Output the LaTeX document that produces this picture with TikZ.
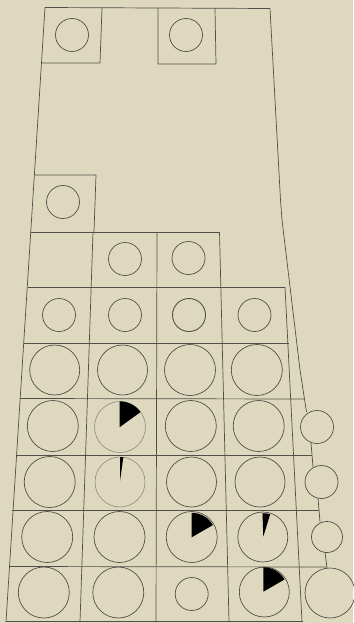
\documentclass[tikz,border=0pt]{standalone}
\usepackage{tikz}
\definecolor{paper}{RGB}{222,217,190}
\definecolor{ink}{RGB}{80,79,72}
\definecolor{inkfaint}{RGB}{140,138,126}
\tikzset{
  grid line/.style={draw=ink, line width=0.7pt, line join=round},
  ring/.style={draw=ink, line width=0.7pt},
  faint ring/.style={draw=inkfaint, line width=0.6pt},
  wedge/.style={fill=black, draw=none},
}
\begin{document}
\begin{tikzpicture}[x=1pt, y=-1pt]
\useasboundingbox (0,0) rectangle (353,623);
\fill[paper] (0,0) rectangle (353,623);

% outer outline
\draw[grid line] (6,622) -- (45,7.5) -- (270,8.5) -- (280.5,200) -- (282,220) -- (300,370) -- (306.5,412);
% upper boxes
\draw[grid line] (102,7.8) -- (100,63) -- (41.3,63);
\draw[grid line] (158,8) -- (158,64) -- (216,64) -- (215,8.2);
\draw[grid line] (34,175) -- (96,175) -- (94,232);
% row lines
\draw[grid line] (31,232) -- (219.5,232);
\draw[grid line] (28,287) -- (285,287);
\draw[grid line] (24,343) -- (289,343);
\draw[grid line] (20,398.5) -- (304.5,399);
\draw[grid line] (16,455) -- (312,455);
\draw[grid line] (12,510) -- (319,510);
\draw[grid line] (9,566.5) -- (327,567);
\draw[grid line] (6,621.5) -- (303,621.5);
% column lines
\draw[grid line] (93,232) -- (80,622);
\draw[grid line] (157,232) -- (156,622);
\draw[grid line] (219.5,232) -- (229,622);
\draw[grid line] (285,287) -- (302,622);
% right-hand chain
\draw[grid line] (311,443) -- (313,467);
\draw[grid line] (318,498) -- (320,522);
\draw[grid line] (325,552) -- (327,568);
\draw[ring] (317,427) circle[radius=16.5];
\draw[ring] (321.5,482) circle[radius=16.5];
\draw[ring] (327,537) circle[radius=15.5];
\draw[ring] (330,593) circle[radius=25];

% small circles, upper part
\draw[ring] (72,35) circle[radius=16.5];
\draw[ring] (186,35) circle[radius=16.5];
\draw[ring] (63,202) circle[radius=16.5];
\draw[ring] (125,259) circle[radius=16.5];
\draw[ring] (188.5,258) circle[radius=16.5];
\draw[ring] (59,315) circle[radius=16.5];
\draw[ring] (125,315) circle[radius=16.5];
\draw[ring, line width=0.9pt] (189,315) circle[radius=16.5];
\draw[ring] (254.5,315) circle[radius=16.5];

% row 4
\draw[ring] (54.7,370) circle[radius=25];
\draw[ring] (122.5,370) circle[radius=25];
\draw[ring] (190,370) circle[radius=25.5];
\draw[ring] (256.8,370) circle[radius=25.5];
% row 5
\draw[ring] (52.8,426) circle[radius=25.5];
\draw[faint ring] (120,427) circle[radius=25.5];
\draw[ring] (190.8,426) circle[radius=25.5];
\draw[ring] (258.7,426) circle[radius=25.5];
% row 6
\draw[ring] (49.7,482) circle[radius=25.5];
\draw[faint ring] (120,482) circle[radius=25];
\draw[ring] (191.5,482) circle[radius=25];
\draw[ring] (260,482) circle[radius=25];
% row 7
\draw[ring] (47.2,537) circle[radius=25.5];
\draw[ring] (119.5,537) circle[radius=25.5];
\draw[ring] (191.7,537) circle[radius=25.5];
\draw[ring] (262.8,537) circle[radius=25];
% row 8
\draw[ring] (43.8,592.5) circle[radius=25.5];
\draw[ring] (118.3,592.5) circle[radius=25.5];
\draw[ring] (191.7,594) circle[radius=16.5];
\draw[ring] (264.3,592) circle[radius=25];

% pie wedges
\fill[wedge] (119.5,427.3) -- ++(-90:26) arc[start angle=-90, end angle=-36, radius=26] -- cycle;
\fill[wedge] (120,481) -- ++(-90:24) arc[start angle=-90, end angle=-82, radius=24] -- cycle;
\fill[wedge] (191.7,537.3) -- ++(-90:24.5) arc[start angle=-90, end angle=-30, radius=24.5] -- cycle;
\fill[wedge] (263.3,536.7) -- ++(-92:23.5) arc[start angle=-92, end angle=-73, radius=23.5] -- cycle;
\fill[wedge] (263.3,591.7) -- ++(-90:24.5) arc[start angle=-90, end angle=-30, radius=24.5] -- cycle;
\end{tikzpicture}
\end{document}
